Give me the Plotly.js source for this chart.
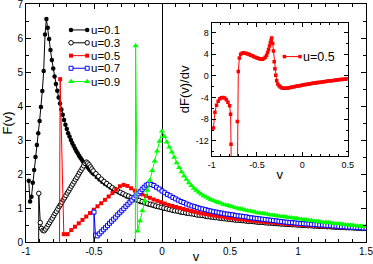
<!DOCTYPE html>
<html><head><meta charset="utf-8">
<script src="https://cdn.plot.ly/plotly-3.0.1.min.js"></script>
<style>html,body{margin:0;padding:0;background:#fff}#chart{width:373px;height:264px}</style>
</head><body><div id="chart"></div>
<script>
// sampling grid of v positions (start, step, count)
function grid(start, step, n){ const a=[]; for(let i=0;i<n;i++) a.push(+(start+i*step).toFixed(4)); return a; }

const seriesNames = ['u=0.1','u=0.3','u=0.5','u=0.7','u=0.9'];
const insetName = 'u=0.5';

// ---- u=0.1 ----
const v01_a = grid(-0.98, 0.01, 49);
const F01_a = [1.80,1.19,1.33,1.74,2.12,2.50,2.85,3.20,3.56,3.97,
  4.44,5.03,6.10,6.56,6.30,5.97,5.65,5.35,5.10,4.87,
  4.65,4.45,4.25,4.07,3.90,3.74,3.59,3.45,3.32,3.20,
  3.10,3.00,2.91,2.83,2.75,2.68,2.61,2.54,2.48,2.42,
  2.36,2.31,2.26,2.21,2.16,2.12,2.07,2.03,1.99];
const v01_b = grid(-0.48, 0.02, 100);
const F01_b = [1.91,1.84,1.77,1.71,1.66,1.60,1.55,1.50,1.46,1.42,
  1.38,1.34,1.31,1.27,1.24,1.21,1.18,1.16,1.13,1.10,
  1.08,1.06,1.04,1.02,1.00,0.98,0.96,0.94,0.92,0.91,
  0.89,0.87,0.86,0.84,0.83,0.82,0.80,0.79,0.78,0.77,
  0.75,0.74,0.73,0.72,0.71,0.70,0.69,0.68,0.67,0.66,
  0.65,0.64,0.63,0.63,0.62,0.61,0.60,0.60,0.59,0.58,
  0.57,0.57,0.56,0.55,0.55,0.54,0.53,0.53,0.52,0.52,
  0.51,0.51,0.50,0.50,0.49,0.49,0.48,0.48,0.47,0.47,
  0.46,0.46,0.46,0.45,0.45,0.44,0.44,0.44,0.43,0.43,
  0.42,0.42,0.42,0.41,0.41,0.41,0.40,0.40,0.40,0.39];

// ---- u=0.3 ----
const v03_a = [-0.907,-0.906,-0.895,-0.886,-0.876];
const F03_a = [-0.5,1.43,0.57,0.40,0.34];
const v03_b = grid(-0.866, 0.01, 37);
const F03_b = [0.33,0.38,0.44,0.51,0.57,0.64,0.70,0.77,0.84,0.90,
  0.97,1.04,1.10,1.17,1.24,1.30,1.37,1.44,1.50,1.57,
  1.64,1.70,1.77,1.84,1.90,1.97,2.04,2.10,2.17,2.24,
  2.31,2.35,2.32,2.27,2.21,2.15,2.09];
const v03_c = grid(-0.486, 0.02, 100);
const F03_c = [2.01,1.93,1.85,1.78,1.72,1.66,1.60,1.55,1.51,1.46,
  1.42,1.38,1.35,1.31,1.28,1.25,1.22,1.19,1.16,1.13,
  1.11,1.09,1.06,1.04,1.02,1.00,0.98,0.96,0.94,0.92,
  0.91,0.89,0.87,0.86,0.84,0.83,0.82,0.80,0.79,0.78,
  0.77,0.75,0.74,0.73,0.72,0.71,0.70,0.69,0.68,0.67,
  0.66,0.65,0.64,0.64,0.63,0.62,0.61,0.61,0.60,0.59,
  0.58,0.58,0.57,0.56,0.56,0.55,0.55,0.54,0.53,0.53,
  0.52,0.52,0.51,0.51,0.50,0.50,0.49,0.49,0.48,0.48,
  0.47,0.47,0.46,0.46,0.46,0.45,0.45,0.44,0.44,0.44,
  0.43,0.43,0.42,0.42,0.42,0.41,0.41,0.41,0.40,0.40];

// ---- u=0.5 ----
const v05_a = [-0.754,-0.749];
const F05_a = [-0.5,4.79];
const v05_b = grid(-0.722, 0.0275, 81);
const F05_b = [0.23,0.23,0.35,0.45,0.55,0.65,0.75,0.85,0.95,1.05,
  1.14,1.24,1.34,1.44,1.54,1.64,1.68,1.65,1.58,1.51,
  1.45,1.40,1.35,1.30,1.25,1.21,1.17,1.13,1.09,1.06,
  1.03,1.00,0.97,0.94,0.91,0.89,0.86,0.84,0.82,0.80,
  0.78,0.76,0.75,0.73,0.71,0.70,0.68,0.67,0.66,0.64,
  0.63,0.62,0.61,0.60,0.59,0.58,0.57,0.56,0.55,0.54,
  0.53,0.52,0.51,0.50,0.50,0.49,0.48,0.48,0.47,0.46,
  0.46,0.45,0.45,0.44,0.44,0.43,0.43,0.42,0.42,0.41,0.41];

// ---- u=0.7 ----
const v07_a = [-0.502,-0.500,-0.489];
const F07_a = [-0.5,0.88,0.20];
const v07_b = grid(-0.476, 0.015, 26);
const F07_b = [0.18,0.24,0.30,0.36,0.42,0.48,0.55,0.61,0.67,0.73,
  0.80,0.86,0.92,0.98,1.05,1.11,1.17,1.23,1.30,1.36,
  1.42,1.48,1.55,1.61,1.67,1.70];
const v07_c = grid(-0.08, 0.02, 80);
const F07_c = [1.69,1.66,1.61,1.56,1.50,1.45,1.40,1.36,1.31,1.27,
  1.23,1.19,1.16,1.12,1.09,1.06,1.04,1.01,0.99,0.97,
  0.95,0.93,0.91,0.89,0.88,0.86,0.85,0.83,0.82,0.81,
  0.80,0.78,0.77,0.76,0.75,0.74,0.72,0.71,0.70,0.69,
  0.68,0.67,0.66,0.65,0.64,0.63,0.62,0.61,0.60,0.59,
  0.58,0.57,0.57,0.56,0.55,0.54,0.54,0.53,0.53,0.52,
  0.51,0.51,0.50,0.50,0.49,0.48,0.48,0.47,0.47,0.46,
  0.45,0.45,0.44,0.44,0.43,0.43,0.42,0.42,0.41,0.41];

// ---- u=0.9 ----
const v09_a = [-0.196,-0.194];
const F09_a = [-0.5,5.77];
const v09_b = grid(-0.18, 0.018, 94);
const F09_b = [0.32,0.62,0.92,1.22,1.52,1.81,2.10,2.38,2.67,2.96,3.26,
  3.10,2.94,2.79,2.64,2.49,2.33,2.19,2.06,1.94,1.84,
  1.74,1.66,1.58,1.52,1.46,1.41,1.36,1.32,1.28,1.25,
  1.22,1.19,1.16,1.14,1.11,1.09,1.07,1.05,1.03,1.01,
  0.99,0.97,0.96,0.94,0.92,0.91,0.89,0.88,0.86,0.85,
  0.84,0.83,0.82,0.80,0.79,0.78,0.77,0.76,0.75,0.74,
  0.73,0.72,0.71,0.70,0.69,0.68,0.67,0.66,0.65,0.64,
  0.63,0.62,0.61,0.60,0.59,0.58,0.58,0.57,0.56,0.55,
  0.54,0.53,0.53,0.52,0.51,0.50,0.49,0.49,0.48,0.47,
  0.46,0.46,0.45];

// ---- inset: dF(v)/dv for u=0.5 ----
const vInL = [-0.980,-0.964,-0.946,-0.928,-0.910,-0.892,-0.874,-0.856,-0.838,-0.820,-0.802,-0.791,-0.786,-0.778];
const dInL = [-9.6,-6.7,-5.4,-4.7,-4.2,-4.05,-4.0,-4.1,-4.4,-4.85,-5.5,-7.1,-12.6,-30];
const vInR = [-0.722,-0.716,-0.706,-0.694,-0.680,-0.664,-0.648,-0.632,-0.616,-0.600,
  -0.584,-0.568,-0.552,-0.536,-0.520,-0.504,-0.488,-0.472,-0.456,-0.440,
  -0.424,-0.408,-0.394,-0.382,-0.372,-0.362,-0.352,-0.344,-0.338,-0.327,
  -0.318,-0.310,-0.302,-0.293,-0.283,-0.270,-0.257,-0.243,-0.228,-0.212,-0.196];
const dInR = [-30,-8.4,0.8,3.3,4.0,4.2,4.25,4.2,4.12,4.03,
  3.93,3.82,3.70,3.58,3.46,3.35,3.24,3.15,3.09,3.08,
  3.2,3.45,3.8,4.3,4.85,5.5,6.1,6.6,7.0,6.0,
  4.6,2.6,1.3,0.1,-0.9,-1.5,-1.8,-2.05,-2.2,-2.26,-2.28];
const vInT = grid(-0.178, 0.018, 39);
const dInT = [-2.26,-2.22,-2.17,-2.11,-2.05,-1.99,-1.93,-1.87,-1.81,-1.75,
  -1.69,-1.64,-1.58,-1.53,-1.48,-1.43,-1.38,-1.33,-1.29,-1.24,
  -1.20,-1.16,-1.11,-1.07,-1.03,-0.99,-0.95,-0.91,-0.88,-0.84,
  -0.79,-0.75,-0.71,-0.68,-0.65,-0.62,-0.59,-0.56,-0.53];

// tick labels
const xTicks = [-1,-0.5,0,0.5,1,1.5];
const xTickText = ['-1','-0.5','0','0.5','1','1.5'];
const yTicks = [0,1,2,3,4,5,6,7];
const yTickText = ['0','1','2','3','4','5','6','7'];
const x2Ticks = [-1,-0.5,0,0.5];
const x2TickText = ['-1','-0.5','0','0.5'];
const y2Ticks = [-12,-8,-4,0,4,8];
const y2TickText = ['-12','-8','-4','0','4','8'];

const FONT = 'Liberation Sans, Arial, sans-serif';
const styles = [
  {line:{color:'#000',width:1}, marker:{symbol:'circle',size:4.5,color:'#000'}},
  {line:{color:'#000',width:1}, marker:{symbol:'circle',size:4.5,color:'#fff',line:{color:'#000',width:1}}},
  {line:{color:'#ff0000',width:1}, marker:{symbol:'square',size:4,color:'#ff0000'}},
  {line:{color:'#0000ff',width:1}, marker:{symbol:'square',size:4,color:'#fff',line:{color:'#0000ff',width:1}}},
  {line:{color:'#00ff00',width:1}, marker:{symbol:'triangle-up',size:5.5,color:'#00ff00'}}
];
const seriesX = [v01_a.concat(v01_b), v03_a.concat(v03_b, v03_c), v05_a.concat(v05_b), v07_a.concat(v07_b, v07_c), v09_a.concat(v09_b)];
const seriesY = [F01_a.concat(F01_b), F03_a.concat(F03_b, F03_c), F05_a.concat(F05_b), F07_a.concat(F07_b, F07_c), F09_a.concat(F09_b)];

const traces = [];
for (let k=0;k<5;k++){
  traces.push({type:'scatter', mode:'lines+markers', name:seriesNames[k], x:seriesX[k], y:seriesY[k],
    xaxis:'x', yaxis:'y', line:styles[k].line, marker:styles[k].marker, hoverinfo:'skip'});
}
traces.push({type:'scatter', mode:'lines+markers', name:insetName,
  x:vInL.concat([null], vInR, vInT), y:dInL.concat([null], dInR, dInT),
  xaxis:'x2', yaxis:'y2', line:{color:'#ff0000',width:1}, marker:{symbol:'square',size:3.5,color:'#ff0000'}, hoverinfo:'skip'});

// legend samples (on an invisible helper subplot spanning the plot area)
const legX = [0.1324, 0.180], legTextX = 0.187;
const legY = [0.891, 0.837, 0.783, 0.730, 0.674];
const annotations = [];
for (let k=0;k<5;k++){
  traces.push({type:'scatter', mode:'lines+markers', x:legX, y:[legY[k],legY[k]], xaxis:'x3', yaxis:'y3',
    line:styles[k].line, marker:styles[k].marker, hoverinfo:'skip', cliponaxis:false});
  annotations.push({xref:'x3', yref:'y3', x:legTextX, y:legY[k], text:seriesNames[k], showarrow:false,
    xanchor:'left', yanchor:'middle', borderpad:0, font:{family:FONT,size:11.5,color:'#000'}});
}
const insLegX = [0.760, 0.806], insLegY = 0.779;
traces.push({type:'scatter', mode:'lines+markers', x:insLegX, y:[insLegY,insLegY], xaxis:'x3', yaxis:'y3',
  line:{color:'#ff0000',width:1}, marker:{symbol:'square',size:3.5,color:'#ff0000'}, hoverinfo:'skip', cliponaxis:false});
annotations.push({xref:'x3', yref:'y3', x:0.813, y:insLegY, text:insetName, showarrow:false,
  xanchor:'left', yanchor:'middle', borderpad:0, font:{family:FONT,size:12.5,color:'#000'}});

function axisBase(extra){
  return Object.assign({ticks:'inside', tickcolor:'#000', tickwidth:1, showline:true, linecolor:'#000', linewidth:1,
    mirror:'allticks', showgrid:false, zeroline:false, tickmode:'array', automargin:false, ticklabeloverflow:'allow'}, extra);
}
const layout = {
  width:373, height:264, margin:{l:26,r:7,t:4,b:22,pad:0},
  paper_bgcolor:'#fff', plot_bgcolor:'rgba(0,0,0,0)', showlegend:false,
  font:{family:FONT, size:10, color:'#000'},
  xaxis: axisBase({domain:[0,1], anchor:'y', range:[-1,1.5], tickvals:xTicks, ticktext:xTickText, ticklen:5,
    minor:{ticks:'inside', tickmode:'linear', tick0:0, dtick:0.1, ticklen:3, tickcolor:'#000', showgrid:false},
    zeroline:true, zerolinecolor:'#000', zerolinewidth:1, tickfont:{size:10},
    title:{text:'v', font:{size:13}, standoff:1}}),
  yaxis: axisBase({domain:[0,1], anchor:'x', range:[0,7], tickvals:yTicks, ticktext:yTickText, ticklen:5,
    minor:{ticks:'inside', tickmode:'linear', tick0:0, dtick:0.5, ticklen:3, tickcolor:'#000', showgrid:false},
    tickfont:{size:10}, title:{text:'F(v)', font:{size:13}, standoff:4}}),
  xaxis2: axisBase({domain:[0.546,0.946], anchor:'y2', range:[-1,0.5], tickvals:x2Ticks, ticktext:x2TickText, ticklen:4,
    minor:{ticks:'inside', tickmode:'linear', tick0:0, dtick:0.1, ticklen:2, tickcolor:'#000', showgrid:false},
    tickfont:{size:9}, title:{text:'v', font:{size:13}, standoff:1}}),
  yaxis2: axisBase({domain:[0.361,0.921], anchor:'x2', range:[-14.8,9.8], tickvals:y2Ticks, ticktext:y2TickText, ticklen:4,
    minor:{ticks:'inside', tickmode:'linear', tick0:0, dtick:2, ticklen:2, tickcolor:'#000', showgrid:false},
    tickfont:{size:9}, title:{text:'dF(v)/dv', font:{size:13}, standoff:3}}),
  xaxis3: {domain:[0,1], anchor:'y3', range:[0,1], visible:false, fixedrange:true},
  yaxis3: {domain:[0,1], anchor:'x3', range:[0,1], visible:false, fixedrange:true},
  annotations: annotations
};
Plotly.newPlot('chart', traces, layout, {staticPlot:true, displayModeBar:false});
</script></body></html>
